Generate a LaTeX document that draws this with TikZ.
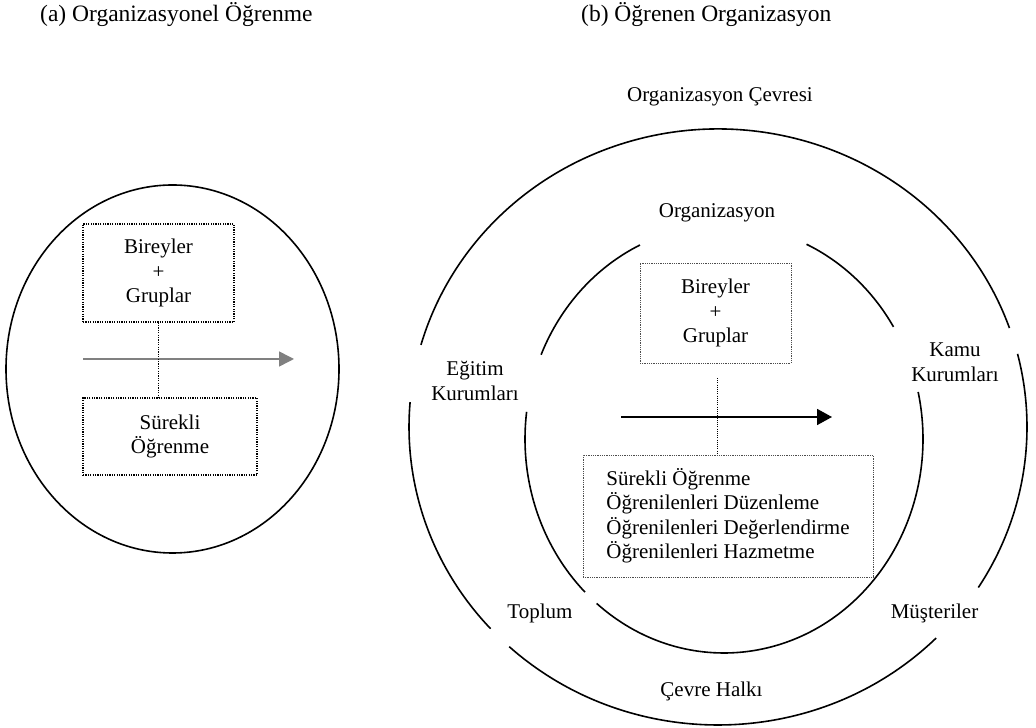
\documentclass[tikz,border=0pt]{standalone}
\usepackage{fontspec}
\setmainfont{Liberation Serif}
\usetikzlibrary{arrows.meta}
\begin{document}
\begin{tikzpicture}[x=1pt,y=1pt,
  every node/.style={font=\fontsize{21}{24.5}\selectfont, inner sep=0pt},
  ring/.style={line width=1.6pt},
  ldotbox/.style={draw, line width=1.2pt, dash pattern=on 1.2pt off 1.2pt, align=center},
  rdotbox/.style={draw=black!70, line width=0.6pt, dash pattern=on 0.9pt off 0.9pt, align=center},
  ldotline/.style={line width=1.2pt, dash pattern=on 1.2pt off 1.2pt},
  rdotline/.style={line width=0.9pt, dash pattern=on 1pt off 1.2pt},
  lbl/.style={align=center},
  head/.style={font=\fontsize{23.5}{27}\selectfont, anchor=base west},
  garrow/.style={draw=black!50, line width=1.5pt, -{Triangle[length=15pt,width=15pt]}},
  barrow/.style={draw=black, line width=1.8pt, -{Triangle[length=15pt,width=16pt]}}
]
\useasboundingbox (0,0) rectangle (1036,728);

% headers
\node[head] (ha) at (40,706) {(a) Organizasyonel Öğrenme};
\node[head] (hb) at (581,706) {(b) Öğrenen Organizasyon};

% ---------- (a) ----------
\coordinate (lc) at (172.5,359);
\draw[ring] (lc) ellipse[x radius=166.5pt, y radius=184pt];
\node[ldotbox, minimum width=151pt, minimum height=98pt] (lb1) at (158.5,455) {Bireyler\\+\\Gruplar};
\node[ldotbox, minimum width=174pt, minimum height=77pt] (lb2) at (170,291.5) {Sürekli\\Öğrenme};
\coordinate (la1) at (83,369);
\coordinate (la2) at (294,369);
\draw[garrow] (la1) -- (la2);
\draw[ldotline] (lb1.south) -- (lb1.south |- lb2.north);

% ---------- (b) ----------
\coordinate (oc) at (718,301);
\coordinate (ic) at (724,289);
% outer ring with gaps
\draw[ring] (oc) ++(19.4:309pt and 298pt) arc[start angle=19.4, end angle=164, x radius=309pt, y radius=298pt];
\draw[ring] (oc) ++(175.2:309pt and 298pt) arc[start angle=175.2, end angle=222.6, x radius=309pt, y radius=298pt];
\draw[ring] (oc) ++(227.5:309pt and 298pt) arc[start angle=227.5, end angle=314.9, x radius=309pt, y radius=298pt];
\draw[ring] (oc) ++(327.4:309pt and 298pt) arc[start angle=327.4, end angle=374.2, x radius=309pt, y radius=298pt];
% inner ring with gaps
\draw[ring] (ic) ++(31.6:199pt and 214pt) arc[start angle=31.6, end angle=65.5, x radius=199pt, y radius=214pt];
\draw[ring] (ic) ++(115:199pt and 214pt) arc[start angle=115, end angle=156.8, x radius=199pt, y radius=214pt];
\draw[ring] (ic) ++(172.7:199pt and 214pt) arc[start angle=172.7, end angle=225.7, x radius=199pt, y radius=214pt];
\draw[ring] (ic) ++(230.2:199pt and 214pt) arc[start angle=230.2, end angle=372.7, x radius=199pt, y radius=214pt];

\node[rdotbox, minimum width=151pt, minimum height=100pt] (rb1) at (715.5,415) {Bireyler\\+\\Gruplar};
\node[rdotbox, align=left, minimum width=290pt, minimum height=122pt] (rb2) at (728,212)
  {Sürekli Öğrenme\\Öğrenilenleri Düzenleme\\Öğrenilenleri Değerlendirme\\Öğrenilenleri Hazmetme};
\coordinate (ra1) at (621,311);
\coordinate (ra2) at (832,311);
\draw[barrow] (ra1) -- (ra2);
\coordinate (dtop) at (717,350);
\draw[rdotline] (dtop) -- (dtop |- rb2.north);

% ring labels
\node[anchor=base] (oenv) at (720,626) {Organizasyon Çevresi};
\node[anchor=base] (org) at (717,510) {Organizasyon};
\node[lbl] (egitim) at (475,347) {Eğitim\\Kurumları};
\node[lbl] (kamu) at (955,366) {Kamu\\Kurumları};
\node[anchor=base] (toplum) at (540,109) {Toplum};
\node[anchor=base] (must) at (934.5,109) {Müşteriler};
\node[anchor=base] (cevre) at (711.5,31.4) {Çevre Halkı};
\end{tikzpicture}
\end{document}
